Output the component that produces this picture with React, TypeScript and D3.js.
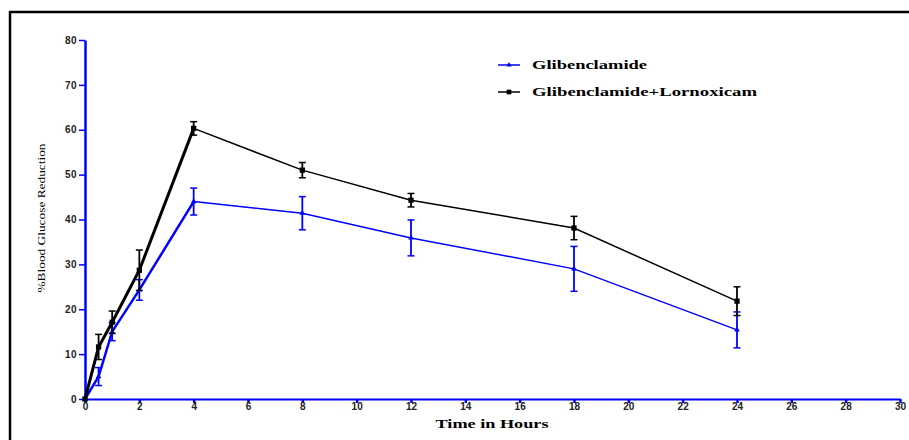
import React, { useEffect, useRef } from "react";
import * as d3 from "d3";

// time points (hours)
const times = [0, 0.5, 1, 2, 4, 8, 12, 18, 24];
// % blood glucose reduction, mean and SEM
const glib = [0, 5, 15, 24.3, 44, 41.4, 35.9, 29, 15.4];
const glibErr = [0, 2, 2, 2.3, 3, 3.7, 4, 5, 4];
const combo = [0, 11.6, 17.1, 28.7, 60.3, 51, 44.3, 38.1, 21.8];
const comboErr = [0, 2.8, 2.5, 4.5, 1.5, 1.7, 1.5, 2.6, 3.2];

const xTicks = [0, 2, 4, 6, 8, 10, 12, 14, 16, 18, 20, 22, 24, 26, 28, 30];
const yTicks = [0, 10, 20, 30, 40, 50, 60, 70, 80];
const seriesNames = ["Glibenclamide", "Glibenclamide+Lornoxicam"];

export default function App() {
  const ref = useRef<SVGSVGElement>(null);

  useEffect(() => {
    const svg = d3.select(ref.current);
    svg.selectAll("*").remove();

    const x = d3.scaleLinear().domain([0, 30]).range([85, 900]);
    const y = d3.scaleLinear().domain([0, 80]).range([399, 40]);
    const blue = "#0000ff";
    const tickFont = "bold 10px Arial, 'Liberation Sans', sans-serif";

    // frame
    svg.append("path")
      .attr("d", "M10,440 L10,12 L909,12")
      .attr("fill", "none")
      .attr("stroke", "black")
      .attr("stroke-width", 2.5);

    // y axis
    const yAxis = svg.append("g").attr("transform", `translate(${x(0)},0)`)
      .call(d3.axisLeft(y).tickValues(yTicks).tickSize(6).tickSizeOuter(0));
    yAxis.select(".domain").attr("stroke", blue).attr("stroke-width", 2.5);
    yAxis.selectAll(".tick line").attr("stroke", blue).attr("stroke-width", 1.5);
    yAxis.selectAll(".tick text")
      .attr("x", -8)
      .attr("fill", "#222")
      .style("font", tickFont)
      .style("letter-spacing", "0.5px");

    // x axis
    const xAxis = svg.append("g").attr("transform", `translate(0,${y(0)})`)
      .call(d3.axisBottom(x).tickValues(xTicks).tickSize(4).tickSizeOuter(0));
    xAxis.select(".domain").attr("stroke", blue).attr("stroke-width", 2);
    xAxis.selectAll(".tick line").attr("stroke", blue).attr("stroke-width", 2.5);
    xAxis.selectAll(".tick text")
      .attr("y", 4)
      .attr("fill", "#222")
      .style("font", tickFont);

    // axis titles
    svg.append("text")
      .attr("transform", "translate(45,218) rotate(-90)")
      .attr("text-anchor", "middle")
      .attr("textLength", 149)
      .attr("lengthAdjust", "spacingAndGlyphs")
      .style("font", "10.5px 'Liberation Serif', 'Times New Roman', serif")
      .text("%Blood Glucose Reduction");
    svg.append("text")
      .attr("x", 492)
      .attr("y", 428)
      .attr("text-anchor", "middle")
      .attr("textLength", 113)
      .attr("lengthAdjust", "spacingAndGlyphs")
      .style("font", "bold 12px 'Liberation Serif', 'Times New Roman', serif")
      .text("Time in Hours");

    function drawSeries(vals: number[], errs: number[], color: string, thick: number, marker: string) {
      const g = svg.append("g");
      // early part drawn heavier, as in the original
      const early = vals.map((v, i) => (times[i] <= 4 ? v : null));
      const late = vals.map((v, i) => (times[i] >= 4 ? v : null));
      const l = d3.line<number | null>()
        .defined(d => d !== null)
        .x((d, i) => x(times[i]))
        .y(d => y(d as number));
      g.append("path").attr("d", l(early)).attr("fill", "none")
        .attr("stroke", color).attr("stroke-width", thick);
      g.append("path").attr("d", l(late)).attr("fill", "none")
        .attr("stroke", color).attr("stroke-width", 1.5);

      // error bars
      vals.forEach((v, i) => {
        if (!errs[i]) return;
        const cx = x(times[i]);
        g.append("line").attr("x1", cx).attr("x2", cx)
          .attr("y1", y(v - errs[i])).attr("y2", y(v + errs[i]))
          .attr("stroke", color).attr("stroke-width", 1.8);
        [v - errs[i], v + errs[i]].forEach(e => {
          g.append("line").attr("x1", cx - 3.5).attr("x2", cx + 3.5)
            .attr("y1", y(e)).attr("y2", y(e))
            .attr("stroke", color).attr("stroke-width", 1.5);
        });
      });

      // markers
      const sym = d3.symbol().type(marker === "square" ? d3.symbolSquare : d3.symbolTriangle)
        .size(marker === "square" ? 28 : 14);
      g.selectAll("path.mk").data(vals).enter().append("path")
        .attr("class", "mk")
        .attr("d", sym)
        .attr("transform", (d, i) => `translate(${x(times[i])},${y(d)})`)
        .attr("fill", color);
    }

    drawSeries(glib, glibErr, blue, 2.5, "triangle");
    drawSeries(combo, comboErr, "black", 3, "square");

    // legend
    const legend = [
      { name: seriesNames[0], color: blue, marker: d3.symbolTriangle, size: 12, len: 115 },
      { name: seriesNames[1], color: "black", marker: d3.symbolSquare, size: 22, len: 225 },
    ];
    legend.forEach((d, i) => {
      const ly = 65 + i * 27;
      svg.append("line").attr("x1", 498).attr("x2", 520).attr("y1", ly).attr("y2", ly)
        .attr("stroke", d.color).attr("stroke-width", 1.5);
      svg.append("path").attr("d", d3.symbol().type(d.marker).size(d.size)())
        .attr("transform", `translate(509,${ly})`).attr("fill", d.color);
      svg.append("text")
        .attr("x", 532).attr("y", ly + 4)
        .attr("textLength", d.len)
        .attr("lengthAdjust", "spacingAndGlyphs")
        .style("font", "bold 12px 'Liberation Serif', 'Times New Roman', serif")
        .text(d.name);
    });
  }, []);

  return (
    <svg ref={ref} width={909} height={440}
      style={{ position: "absolute", left: 0, top: 0, background: "white" }} />
  );
}
